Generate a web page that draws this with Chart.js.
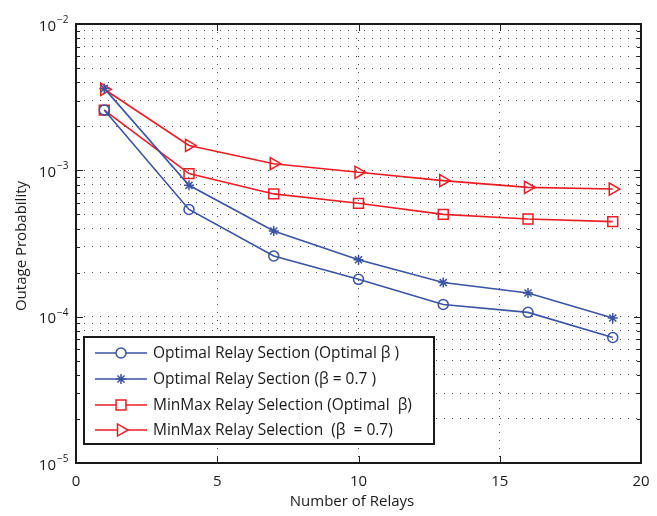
<!DOCTYPE html>
<html>
<head>
<meta charset="utf-8">
<script src="https://cdn.jsdelivr.net/npm/chart.js@4.4.1/dist/chart.umd.min.js"></script>
<style>
  body { margin: 0; background: #fff; }
  #wrap { width: 657px; height: 516px; }
</style>
</head>
<body>
<div id="wrap"><canvas id="outage-chart" width="657" height="516"></canvas></div>
<script>
// x values: number of relays
var relays = [1, 4, 7, 10, 13, 16, 19];

// outage probability
var optRelayOptBeta = [2.58e-3, 5.4e-4, 2.6e-4, 1.8e-4, 1.21e-4, 1.07e-4, 7.2e-5];
var optRelayBeta07 = [3.63e-3, 7.9e-4, 3.85e-4, 2.45e-4, 1.71e-4, 1.45e-4, 9.8e-5];
var minMaxOptBeta = [2.58e-3, 9.5e-4, 6.9e-4, 5.95e-4, 5.0e-4, 4.65e-4, 4.46e-4];
var minMaxBeta07 = [3.58e-3, 1.48e-3, 1.11e-3, 9.7e-4, 8.5e-4, 7.65e-4, 7.45e-4];

var seriesLabels = [
    'Optimal Relay Section (Optimal \u03B2 )',
    'Optimal Relay Section (\u03B2 = 0.7 )',
    'MinMax Relay Selection (Optimal  \u03B2)',
    'MinMax Relay Selection  (\u03B2  = 0.7)'
];

var xTicks = [0, 5, 10, 15, 20];
var yDecades = [-5, -4, -3, -2];

var BLUE = '#3a53a4';
var RED = '#ed1c24';
var FONT = '"Open Sans", "Liberation Sans", sans-serif';

function toPoints(values) {
    return relays.map(function (r, i) { return {x: r, y: values[i]}; });
}

function makeDataset(label, values, color, style, radius, rotation) {
    return {
        label: label,
        data: toPoints(values),
        borderColor: color,
        backgroundColor: 'rgba(0,0,0,0)',
        borderWidth: 1.6,
        pointStyle: style,
        pointRadius: radius,
        pointRotation: rotation,
        pointBorderColor: color,
        pointBackgroundColor: 'rgba(0,0,0,0)',
        pointBorderWidth: 1.5,
        tension: 0
    };
}

/**
 * Frame, inward ticks, tick labels, axis titles and legend
 */
var matlabDecor = {
    id: 'matlabDecor',
    afterDraw: function (chart) {
        var ctx = chart.ctx;
        var area = chart.chartArea;
        var xs = chart.scales.x;
        var ys = chart.scales.y;
        ctx.save();

        // ticks, inward on all four sides
        ctx.strokeStyle = '#222';
        ctx.lineWidth = 1;
        ctx.setLineDash([]);
        ctx.beginPath();
        for (var e = -5; e <= -3; e++) {
            for (var m = 1; m <= 9; m++) {
                var v = m * Math.pow(10, e);
                var py = Math.round(ys.getPixelForValue(v)) + 0.5;
                var len = (m === 1) ? 7 : 4;
                ctx.moveTo(area.left, py); ctx.lineTo(area.left + len, py);
                ctx.moveTo(area.right, py); ctx.lineTo(area.right - len, py);
            }
        }
        xTicks.forEach(function (t) {
            var px = Math.round(xs.getPixelForValue(t)) + 0.5;
            ctx.moveTo(px, area.bottom); ctx.lineTo(px, area.bottom - 7);
            ctx.moveTo(px, area.top); ctx.lineTo(px, area.top + 7);
        });
        ctx.stroke();

        // frame
        ctx.lineWidth = 2;
        ctx.strokeStyle = '#1a1a1a';
        ctx.strokeRect(area.left, area.top, area.right - area.left, area.bottom - area.top);

        // tick labels
        ctx.fillStyle = '#1a1a1a';
        ctx.font = '15px ' + FONT;
        ctx.textAlign = 'center';
        ctx.textBaseline = 'alphabetic';
        xTicks.forEach(function (t) {
            ctx.fillText(String(t), xs.getPixelForValue(t), 486);
        });
        yDecades.forEach(function (d) {
            var py = ys.getPixelForValue(Math.pow(10, d));
            ctx.font = '15px ' + FONT;
            ctx.textAlign = 'right';
            ctx.fillText('10', 56, py + 6.5);
            ctx.font = '10px ' + FONT;
            ctx.textAlign = 'left';
            ctx.fillText('\u2212' + Math.abs(d), 57, py - 1);
        });

        // axis titles
        ctx.font = '15px ' + FONT;
        ctx.textAlign = 'center';
        ctx.fillText('Number of Relays', 352, 506);
        ctx.save();
        ctx.translate(26, 246);
        ctx.rotate(-Math.PI / 2);
        ctx.fillText('Outage Probability', 0, 0);
        ctx.restore();

        // legend box
        var bx = 84, by = 337, bw = 350, bh = 107;
        ctx.fillStyle = '#fff';
        ctx.fillRect(bx, by, bw, bh);
        ctx.lineWidth = 2;
        ctx.strokeStyle = '#1a1a1a';
        ctx.strokeRect(bx, by, bw, bh);
        var rowsY = [353, 379, 405, 430];
        chart.data.datasets.forEach(function (ds, i) {
            var ry = rowsY[i];
            ctx.strokeStyle = ds.borderColor;
            ctx.lineWidth = 1.6;
            ctx.beginPath();
            ctx.moveTo(95, ry); ctx.lineTo(147, ry);
            ctx.stroke();
            ctx.fillStyle = '#fff';
            ctx.lineWidth = 1.5;
            Chart.helpers.drawPoint(ctx, {
                pointStyle: ds.pointStyle,
                rotation: ds.pointRotation,
                radius: ds.pointRadius,
                borderWidth: 1.5
            }, 121, ry);
            ctx.fillStyle = '#1a1a1a';
            ctx.font = '15.5px ' + FONT;
            ctx.textAlign = 'left';
            ctx.textBaseline = 'middle';
            ctx.fillText(ds.label, 153, ry + 1);
        });
        ctx.restore();
    }
};

var ctx = document.getElementById('outage-chart').getContext('2d');
var chart = new Chart(ctx, {
    type: 'line',
    data: {
        datasets: [
            makeDataset(seriesLabels[0], optRelayOptBeta, BLUE, 'circle', 5, 0),
            makeDataset(seriesLabels[1], optRelayBeta07, BLUE, 'star', 5, 0),
            makeDataset(seriesLabels[2], minMaxOptBeta, RED, 'rect', 7, 0),
            makeDataset(seriesLabels[3], minMaxBeta07, RED, 'triangle', 7, 90)
        ]
    },
    options: {
        responsive: false,
        animation: false,
        devicePixelRatio: 1,
        layout: { padding: { left: 76, right: 16, top: 24, bottom: 53 } },
        plugins: { legend: { display: false }, tooltip: { enabled: false } },
        scales: {
            x: {
                type: 'linear', min: 0, max: 20,
                ticks: { display: false, stepSize: 5 },
                grid: { drawTicks: false, color: '#444', lineWidth: 1 },
                border: { display: false, dash: [1, 7] }
            },
            y: {
                type: 'logarithmic', min: 1e-5, max: 1e-2,
                afterBuildTicks: function (scale) {
                    var ticks = [];
                    for (var e = -5; e <= -3; e++) {
                        for (var m = 1; m <= 9; m++) ticks.push({value: m * Math.pow(10, e)});
                    }
                    ticks.push({value: 1e-2});
                    scale.ticks = ticks;
                },
                ticks: { display: false },
                grid: { drawTicks: false, color: '#444', lineWidth: 1 },
                border: { display: false, dash: [1, 7] }
            }
        }
    },
    plugins: [matlabDecor]
});
</script>
</body>
</html>
